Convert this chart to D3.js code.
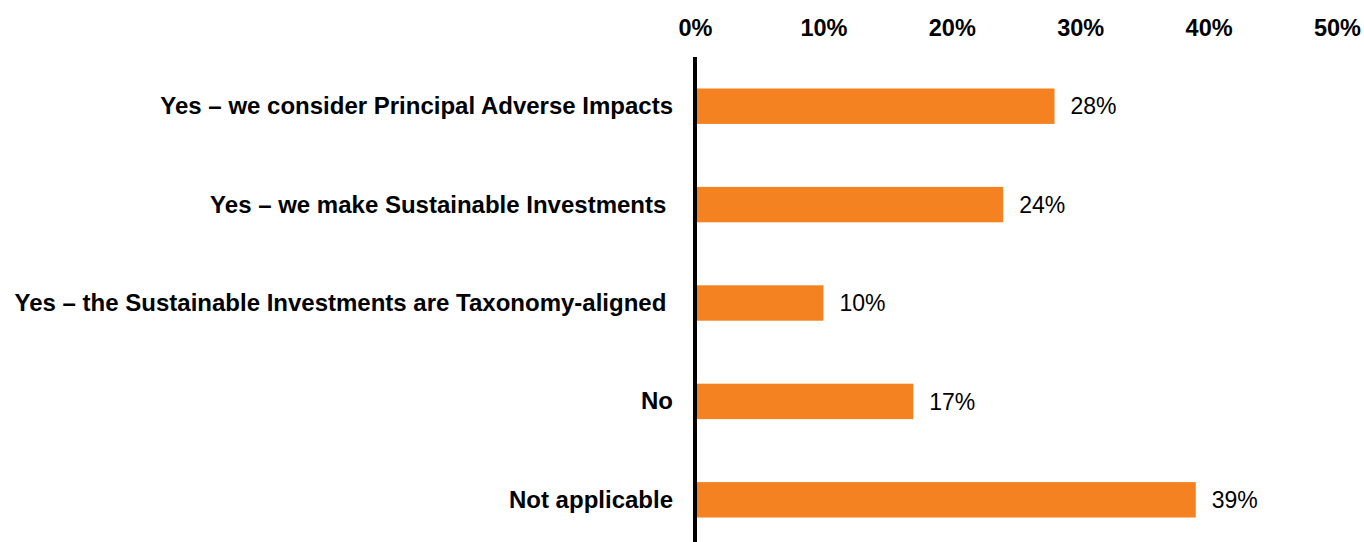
<!DOCTYPE html>
<html>
<head>
<meta charset="utf-8">
<script src="https://cdn.jsdelivr.net/npm/d3@7"></script>
<style>
  html, body { margin: 0; padding: 0; background: #fff; }
  svg { display: block; }
  text { font-family: "Liberation Sans", Arial, sans-serif; fill: #000; }
</style>
</head>
<body>
<svg id="chart" width="1364" height="542"></svg>
<script>
// Survey answers and share of respondents (%)
const categories = [
  "Yes – we consider Principal Adverse Impacts",
  "Yes – we make Sustainable Investments ",
  "Yes – the Sustainable Investments are Taxonomy-aligned ",
  "No",
  "Not applicable"
];
const values = [28, 24, 10, 17, 39];
const tickValues = [0, 10, 20, 30, 40, 50];

const svg = d3.select("#chart");
const W = 1364, H = 542;

const x = d3.scaleLinear().domain([0, 50]).range([695, 1337]);
const y = d3.scaleBand()
  .domain(categories)
  .range([57, 549])
  .paddingInner(0.64)
  .paddingOuter(0.32);

// Bars
svg.append("g").selectAll("rect")
  .data(categories)
  .join("rect")
  .attr("x", x(0))
  .attr("y", d => y(d))
  .attr("width", (d, i) => x(values[i]) - x(0))
  .attr("height", y.bandwidth())
  .attr("fill", "#F58220");

// Value labels
svg.append("g").selectAll("text")
  .data(categories)
  .join("text")
  .attr("x", (d, i) => x(values[i]) + 16)
  .attr("y", d => y(d) + y.bandwidth() / 2)
  .attr("dy", "0.36em")
  .style("font-size", "23px")
  .text((d, i) => values[i] + "%");

// Top axis with percentage ticks
const xAxis = d3.axisTop(x)
  .tickValues(tickValues)
  .tickSize(0)
  .tickFormat(d => d + "%");
const gx = svg.append("g")
  .attr("transform", "translate(0,36)")
  .call(xAxis);
gx.select(".domain").remove();
gx.selectAll("text")
  .attr("y", 0)
  .attr("dy", 0)
  .style("font-family", "'Liberation Sans', Arial, sans-serif")
  .style("font-size", "23.5px")
  .style("font-weight", "bold")
  .attr("fill", "#000");

// Category labels
const yAxis = d3.axisLeft(y).tickSize(0).tickPadding(0);
const gy = svg.append("g")
  .attr("transform", "translate(673,0)")
  .call(yAxis);
gy.select(".domain").remove();
gy.selectAll("text")
  .attr("dy", "0.33em")
  .style("white-space", "pre")
  .style("font-family", "'Liberation Sans', Arial, sans-serif")
  .style("font-size", "24px")
  .style("font-weight", "bold")
  .attr("fill", "#000");

// Vertical zero line
svg.append("line")
  .attr("x1", x(0)).attr("x2", x(0))
  .attr("y1", 57).attr("y2", H)
  .attr("stroke", "#000")
  .attr("stroke-width", 4);
</script>
</body>
</html>
